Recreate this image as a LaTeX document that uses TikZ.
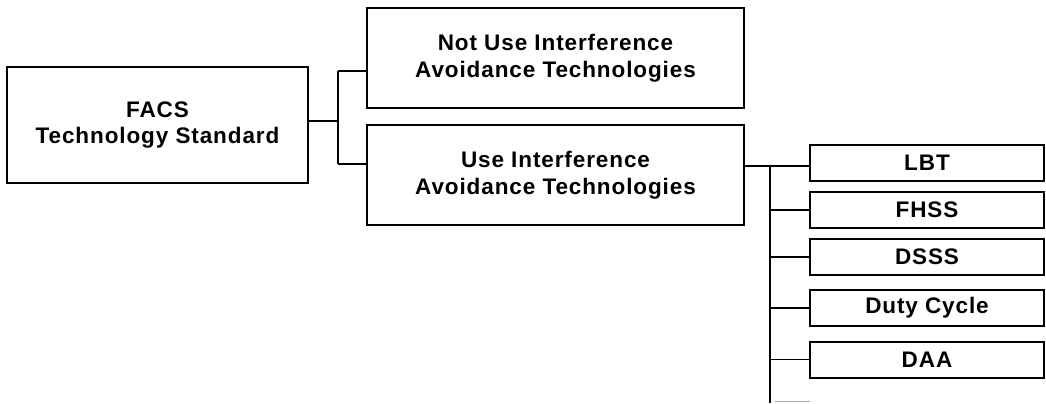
\documentclass[tikz,border=0pt]{standalone}
\usepackage{fontspec}
\newfontfamily\chartfont{Liberation Sans}[LetterSpace=4]
\usetikzlibrary{positioning}
\tikzset{
  stdbox/.style={
    draw,
    rectangle,
    line width=1.2pt,
    align=center,
    inner sep=0pt,
    font=\chartfont\bfseries\fontsize{13.5}{16}\selectfont,
  },
  bigbox/.style={
    stdbox,
    minimum width=226pt,
    minimum height=60pt
  },
  leafbox/.style={
    stdbox,
    minimum width=140.4pt,
    minimum height=21.6pt
  },
  link/.style={
    line width=0.9pt
  }
}
\begin{document}
\begin{tikzpicture}[x=0.6pt,y=-0.6pt]
\useasboundingbox (0,0) rectangle (1046,403);

% --- root ---
\node[stdbox, minimum width=180.6pt, minimum height=69.6pt] (facs) at (157.5,125)
  {FACS\\Technology Standard};

% --- second level ---
\node[bigbox] (notuse) at (555.5,58) {Not Use Interference\\Avoidance Technologies};
\node[bigbox, below=9pt of notuse] (use) {Use Interference\\Avoidance Technologies};

% --- technologies ---
\node[leafbox] (lbt) at (927,163) {LBT};
\node[leafbox] (fhss) at (927,210) {FHSS};
\node[leafbox] (dsss) at (927,257) {DSSS};
\node[leafbox] (duty) at (927,308) {Duty Cycle};
\node[leafbox] (daa) at (927,359.5) {DAA};

% --- connectors root -> second level ---
\coordinate (j1) at (338,121);
\coordinate (j1top) at (338,71);
\coordinate (j1bot) at (338,164);
\draw[link] (facs.east |- j1) -- (j1);
\draw[link] (j1top) -- (j1bot);
\draw[link] (j1top) -- (notuse.west |- j1top);
\draw[link] (j1bot) -- (use.west |- j1bot);

% --- connectors second level -> technologies ---
\coordinate (j2) at (770,166);
\coordinate (j2end) at (770,403);
\draw[link] (use.east |- j2) -- (lbt.west |- j2);
\draw[link] (j2) -- (j2end);
\draw[link] (j2 |- fhss) -- (fhss.west);
\draw[link] (j2 |- dsss) -- (dsss.west);
\draw[link] (j2 |- duty) -- (duty.west);
\draw[link] (j2 |- daa) -- (daa.west);
\draw[link, black!35] (775,401.5) -- (810,401.5);

\end{tikzpicture}
\end{document}
